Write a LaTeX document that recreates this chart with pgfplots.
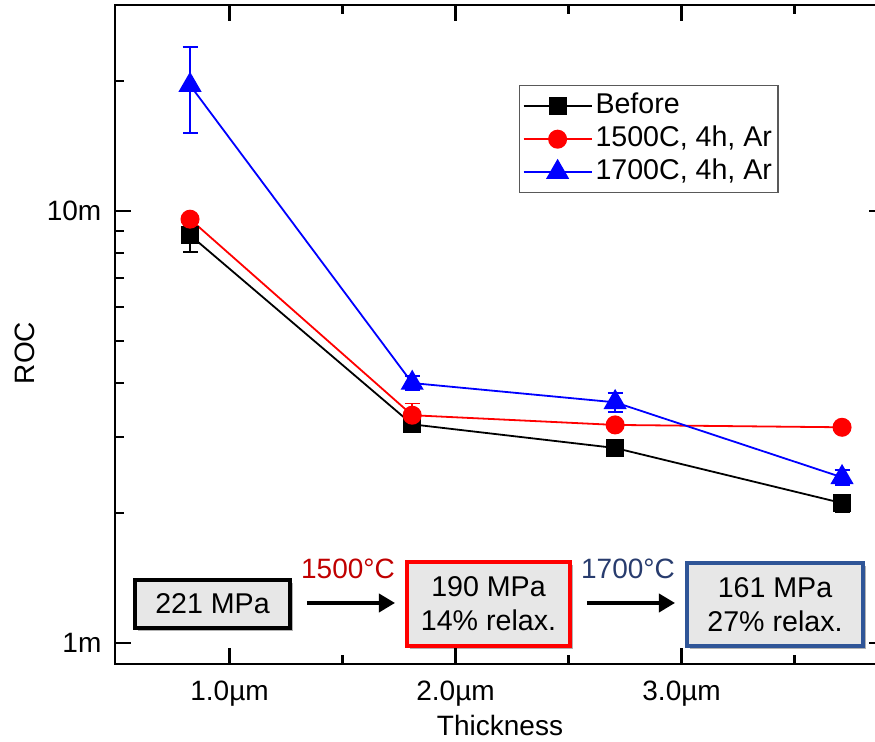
\documentclass[border=0pt]{standalone}
\usepackage{fontspec}
\setmainfont{Liberation Sans}
\usepackage{pgfplots}
\pgfplotsset{compat=1.18}
\usetikzlibrary{arrows.meta,shadows}
\definecolor{tred}{RGB}{192,0,0}
\definecolor{tblue}{RGB}{40,60,110}
\definecolor{bblue}{RGB}{47,85,151}
\definecolor{boxgray}{RGB}{231,231,231}
\begin{document}
\begin{tikzpicture}[font=\fontsize{14}{17}\selectfont]
\begin{axis}[
  name=ax, at={(0,0)}, anchor=south west,
  width=385pt, height=329.5pt, scale only axis,
  xmin=0.493, xmax=3.90,
  ymode=log, ymin=0.895, ymax=30,
  xtick={1,2,3}, xticklabels={1.0µm,2.0µm,3.0µm},
  minor xtick={1.5,2.5,3.5},
  ytick={1,10}, yticklabels={1m,10m},
  minor ytick={2,3,4,5,6,7,8,9,20},
  tick align=inside,
  major tick length=8pt, minor tick length=4.5pt,
  axis line style={line width=1.1pt},
  tick style={line width=1.1pt, black},
  ticklabel style={font=\fontsize{14}{16}\selectfont},
  xticklabel style={yshift=-4.8pt},
  yticklabel style={xshift=-3.3pt},
  xlabel={Thickness},
  xlabel style={at={(axis description cs:0.5,-0.094)}, anchor=center, font=\fontsize{14}{16}\selectfont},
  ylabel={ROC},
  ylabel style={at={(axis description cs:-0.117,0.472)}, anchor=center, font=\fontsize{14}{16}\selectfont},
  legend cell align=left,
  legend style={at={(0.5247,0.8786)}, anchor=north west, draw=black!65, line width=0.7pt,
    font=\fontsize{14.3}{16}\selectfont, inner xsep=1.5pt, inner ysep=2pt, row sep=0pt,
    nodes={inner sep=1.5pt, text height=10.5pt, text depth=3pt}},
  legend image code/.code={\draw[mark repeat=2,mark phase=2,#1] plot coordinates {(0pt,0pt)(17pt,0pt)(34pt,0pt)};},
]
\addplot[black, line width=0.9pt, mark=square*, mark size=4pt, mark options={solid},
  error bars/.cd, y dir=both, y explicit, error bar style={line width=0.8pt},
  error mark options={rotate=90, mark size=3.75pt, line width=0.8pt}]
  coordinates {(0.825,8.80) +- (0,0.76) (1.808,3.21) +- (0,0.1) (2.706,2.83) +- (0,0.08) (3.71,2.11) +- (0,0.1)};
\addlegendentry{Before}
\addplot[red, line width=0.9pt, mark=*, mark size=4.3pt, mark options={solid},
  error bars/.cd, y dir=both, y explicit, error bar style={line width=0.8pt},
  error mark options={rotate=90, mark size=3.75pt, line width=0.8pt}]
  coordinates {(0.825,9.58) +- (0,0.1) (1.808,3.37) +- (0,0.22) (2.706,3.20) +- (0,0.05) (3.71,3.16) +- (0,0.05)};
\addlegendentry{1500C, 4h, Ar}
\addplot[blue, line width=0.9pt, mark=triangle*, mark size=5.8pt, mark options={solid},
  error bars/.cd, y dir=both, y explicit, error bar style={line width=0.8pt},
  error mark options={rotate=90, mark size=3.75pt, line width=0.8pt}]
  coordinates {(0.825,19.57) +- (0,4.4) (1.808,4.00) +- (0,0.15) (2.706,3.61) +- (0,0.18) (3.71,2.42) +- (0,0.1)};
\addlegendentry{1700C, 4h, Ar}
\end{axis}
\begin{scope}[line join=miter]
\tikzset{shbox/.style={line width=1.6pt, fill=boxgray, inner sep=0pt, align=center,
  font=\fontsize{14.3}{17}\selectfont,
  drop shadow={shadow xshift=1.3pt, shadow yshift=-1.3pt, fill=black, opacity=0.3}},
  arr/.style={line width=1.8pt, -{Triangle[length=8pt,width=9pt]}}}
\node[shbox, draw=black, minimum width=77.5pt, minimum height=24pt] at (48.75pt,30pt) {221 MPa};
\draw[arr] (96pt,30.5pt) -- (140pt,30.5pt);
\node[text=tred] at (116.5pt,47.5pt) {1500°C};
\node[shbox, draw=red, minimum width=81.5pt, minimum height=42pt] at (186.75pt,30pt) {190 MPa\\14\% relax.};
\draw[arr] (236pt,30.5pt) -- (280pt,30.5pt);
\node[text=tblue] at (256.5pt,47.5pt) {1700°C};
\node[shbox, draw=bblue, minimum width=88pt, minimum height=41.5pt] at (330pt,29.75pt) {161 MPa\\27\% relax.};
\end{scope}
\pgfresetboundingbox
\useasboundingbox (-57.5pt,-39pt) rectangle (380pt,332pt);
\end{tikzpicture}
\end{document}
